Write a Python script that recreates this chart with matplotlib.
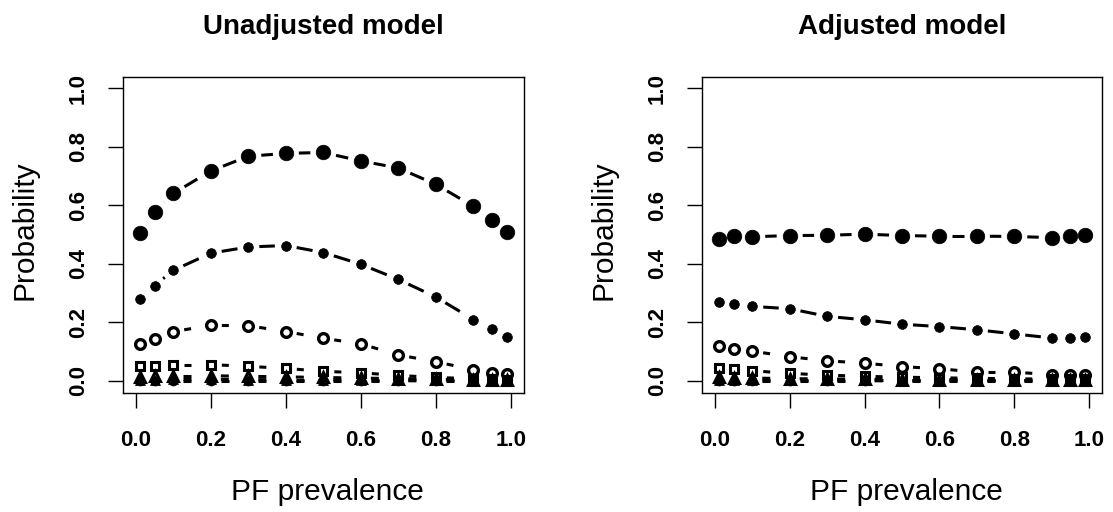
import matplotlib
matplotlib.use("Agg")
import matplotlib.pyplot as plt
import numpy as np

plt.rcParams["lines.scale_dashes"] = False

# ---- data ----
pf_prevalence = [0.01, 0.05, 0.1, 0.2, 0.3, 0.4, 0.5, 0.6, 0.7, 0.8, 0.9, 0.95, 0.99]

unadj_s1 = [0.506, 0.579, 0.641, 0.718, 0.768, 0.778, 0.781, 0.752, 0.728, 0.672, 0.597, 0.551, 0.509]
unadj_s2 = [0.281, 0.326, 0.378, 0.437, 0.458, 0.463, 0.439, 0.399, 0.347, 0.287, 0.210, 0.177, 0.151]
unadj_s3 = [0.126, 0.143, 0.169, 0.190, 0.189, 0.169, 0.146, 0.127, 0.089, 0.066, 0.038, 0.029, 0.024]
unadj_s4 = [0.052, 0.052, 0.056, 0.056, 0.050, 0.043, 0.033, 0.028, 0.019, 0.012, 0.008, 0.006, 0.005]
unadj_s5 = [0.015, 0.016, 0.018, 0.018, 0.016, 0.014, 0.012, 0.010, 0.008, 0.006, 0.004, 0.003, 0.003]
unadj_s6 = [0.005, 0.005, 0.006, 0.006, 0.005, 0.004, 0.004, 0.003, 0.003, 0.002, 0.002, 0.002, 0.002]
unadj_s7 = [0.001, 0.001, 0.001, 0.001, 0.001, 0.001, 0.001, 0.001, 0.001, 0.000, 0.000, 0.000, 0.000]

adj_s1 = [0.486, 0.495, 0.493, 0.497, 0.498, 0.502, 0.497, 0.495, 0.495, 0.494, 0.490, 0.495, 0.500]
adj_s2 = [0.269, 0.262, 0.255, 0.247, 0.221, 0.209, 0.194, 0.186, 0.175, 0.161, 0.147, 0.147, 0.149]
adj_s3 = [0.120, 0.109, 0.102, 0.083, 0.069, 0.061, 0.049, 0.042, 0.030, 0.030, 0.022, 0.022, 0.022]
adj_s4 = [0.045, 0.040, 0.035, 0.026, 0.020, 0.016, 0.013, 0.011, 0.009, 0.008, 0.006, 0.006, 0.006]
adj_s5 = [0.012, 0.011, 0.010, 0.008, 0.007, 0.006, 0.005, 0.005, 0.004, 0.004, 0.004, 0.004, 0.004]
adj_s6 = [0.004, 0.004, 0.003, 0.003, 0.003, 0.002, 0.002, 0.002, 0.002, 0.002, 0.001, 0.001, 0.001]
adj_s7 = [0.001, 0.001, 0.001, 0.001, 0.001, 0.001, 0.000, 0.000, 0.000, 0.000, 0.000, 0.000, 0.000]

titles = ["Unadjusted model", "Adjusted model"]
x_label = "PF prevalence"
y_label = "Probability"
tick_vals = [0.0, 0.2, 0.4, 0.6, 0.8, 1.0]
tick_labels = ["0.0", "0.2", "0.4", "0.6", "0.8", "1.0"]

panels = [
    [unadj_s1, unadj_s2, unadj_s3, unadj_s4, unadj_s5, unadj_s6, unadj_s7],
    [adj_s1, adj_s2, adj_s3, adj_s4, adj_s5, adj_s6, adj_s7],
]

PX = 0.72  # points per pixel at dpi 100
# marker styles per series: (marker, size pt, filled, edge width pt, line width pt, dash on/off px, gap px)
styles = [
    ("o", 10.5, True, 0.0, 2.2, (15, 12), 13),
    ("o", 7.0, True, 0.0, 2.2, (17, 12), 11),
    ("o", 7.0, False, 2.4, 2.2, (7, 14), 11),
    ("s", 6.2, False, 2.2, 2.2, (7, 14), 11),
    ("^", 7.5, False, 2.2, 2.2, (8, 14), 10),
    ("^", 7.5, True, 0.0, 2.2, (8, 14), 10),
    ("o", 6.5, True, 0.0, 2.2, (8, 14), 10),
]

W, H = 1113, 512
fig = plt.figure(figsize=(W / 100, H / 100), dpi=100)

ax_boxes = [(122.7, 76.7, 524.0, 392.7), (701.7, 76.7, 1102.3, 392.7)]
tick_font = dict(family="Liberation Sans", weight="bold", size=16)


def draw_type_b(ax, xs, ys, lw, dash, gap):
    """Emulate R's type='b': separate dashed segments shortened near the points."""
    pts = ax.transData.transform(np.column_stack([xs, ys]))
    inv = ax.transData.inverted()
    for i in range(len(pts) - 1):
        a, b = pts[i], pts[i + 1]
        d = b - a
        L = np.hypot(*d)
        if L <= 2 * gap:
            continue
        u = d / L
        seg = inv.transform(np.vstack([a + u * gap, b - u * gap]))
        ax.plot(seg[:, 0], seg[:, 1], color="black", lw=lw,
                linestyle=(0, (dash[0] * PX, dash[1] * PX)),
                dash_capstyle="butt", solid_capstyle="butt", zorder=1)


for p, (x0, y0, x1, y1) in enumerate(ax_boxes):
    ax = fig.add_axes([x0 / W, 1 - y1 / H, (x1 - x0) / W, (y1 - y0) / H])
    ax.set_xlim(-0.035, 1.035)
    ax.set_ylim(-0.04, 1.04)
    series = panels[p]
    for vals, (m, ms, filled, mew, lw, dash, gap) in zip(series, styles):
        draw_type_b(ax, pf_prevalence, vals, lw, dash, gap)
    for vals, (m, ms, filled, mew, lw, dash, gap) in zip(series, styles):
        if filled:
            ax.plot(pf_prevalence, vals, linestyle="none", marker=m, ms=ms,
                    mfc="black", mec="black", mew=0.5, zorder=3)
        else:
            ax.plot(pf_prevalence, vals, linestyle="none", marker=m, ms=ms,
                    mfc="none", mec="black", mew=mew, zorder=3)

    ax.set_xticks(tick_vals)
    ax.set_yticks(tick_vals)
    ax.set_xticklabels(tick_labels, fontdict=tick_font)
    ax.set_yticklabels(tick_labels, fontdict=tick_font, rotation=90, va="center", ha="center")
    ax.tick_params(axis="both", direction="out", length=10.8, width=1.0, color="black")
    ax.tick_params(axis="x", pad=16)
    ax.tick_params(axis="y", pad=21)
    for s in ax.spines.values():
        s.set_linewidth(1.0)
        s.set_color("black")

    cx = (x0 + x1) / 2
    fig.text(cx / W, 1 - 34 / H, titles[p], ha="center", va="baseline",
             family="Liberation Sans", weight="bold", size=20)
    fig.text((cx + 4) / W, 1 - 500 / H, x_label, ha="center", va="baseline",
             family="Liberation Sans", size=21.5)
    fig.text((x0 - 98) / W, 1 - 230 / H, y_label, ha="center", va="center", rotation=90,
             family="Liberation Sans", size=21.5)

fig.savefig("out.png", dpi=100, facecolor="white")
